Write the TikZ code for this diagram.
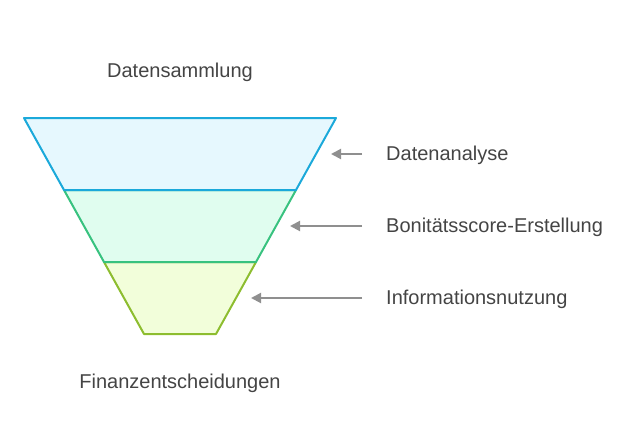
\documentclass[tikz,border=0pt]{standalone}
\usepackage{fontspec}
\setmainfont{Liberation Sans}
\usepackage{tikz}
\usetikzlibrary{arrows.meta,positioning}
\definecolor{blueline}{HTML}{1BA9DA}
\definecolor{bluefill}{HTML}{E6F8FE}
\definecolor{greenline}{HTML}{38C27F}
\definecolor{greenfill}{HTML}{E0FDEF}
\definecolor{limeline}{HTML}{8DBD2F}
\definecolor{limefill}{HTML}{F2FEDA}
\definecolor{arrowgray}{HTML}{8F8F8F}
\definecolor{textgray}{HTML}{444444}

\begin{document}
\begin{tikzpicture}[x=1pt, y=-1pt, layer/.style={line width=2pt, line join=round}, label node/.style={font=\fontsize{20}{24}\selectfont, text=textgray, inner sep=0pt}, pointer/.style={-{Triangle[length=10pt,width=10pt]}, arrowgray, line width=2pt}]
\useasboundingbox (0,0) rectangle (637,442);
% funnel layers
\draw[layer, limeline, fill=limefill] (104,262) -- (256,262) -- (216,334) -- (144,334) -- cycle;
\draw[layer, greenline, fill=greenfill] (64,190) -- (296,190) -- (256,262) -- (104,262) -- cycle;
\draw[layer, blueline, fill=bluefill] (24,118) -- (336,118) -- (296,190) -- (64,190) -- cycle;
% texts
\node[label node] (top) at (180,72) {Datensammlung};
\node[label node] (bottom) at (180,383) {Finanzentscheidungen};
\node[label node, anchor=west] (l1) at (386,155) {Datenanalyse};
\node[label node, anchor=west] (l2) at (386,227) {Bonitätsscore-Erstellung};
\node[label node, anchor=west] (l3) at (386,299) {Informationsnutzung};
% arrows
\coordinate (s1) at (362,154);
\coordinate (s2) at (362,226);
\coordinate (s3) at (362,298);
\coordinate (e1) at (331,154);
\coordinate (e2) at (290,226);
\coordinate (e3) at (251,298);
\draw[pointer] (s1) -- (e1);
\draw[pointer] (s2) -- (e2);
\draw[pointer] (s3) -- (e3);
\end{tikzpicture}
\end{document}
